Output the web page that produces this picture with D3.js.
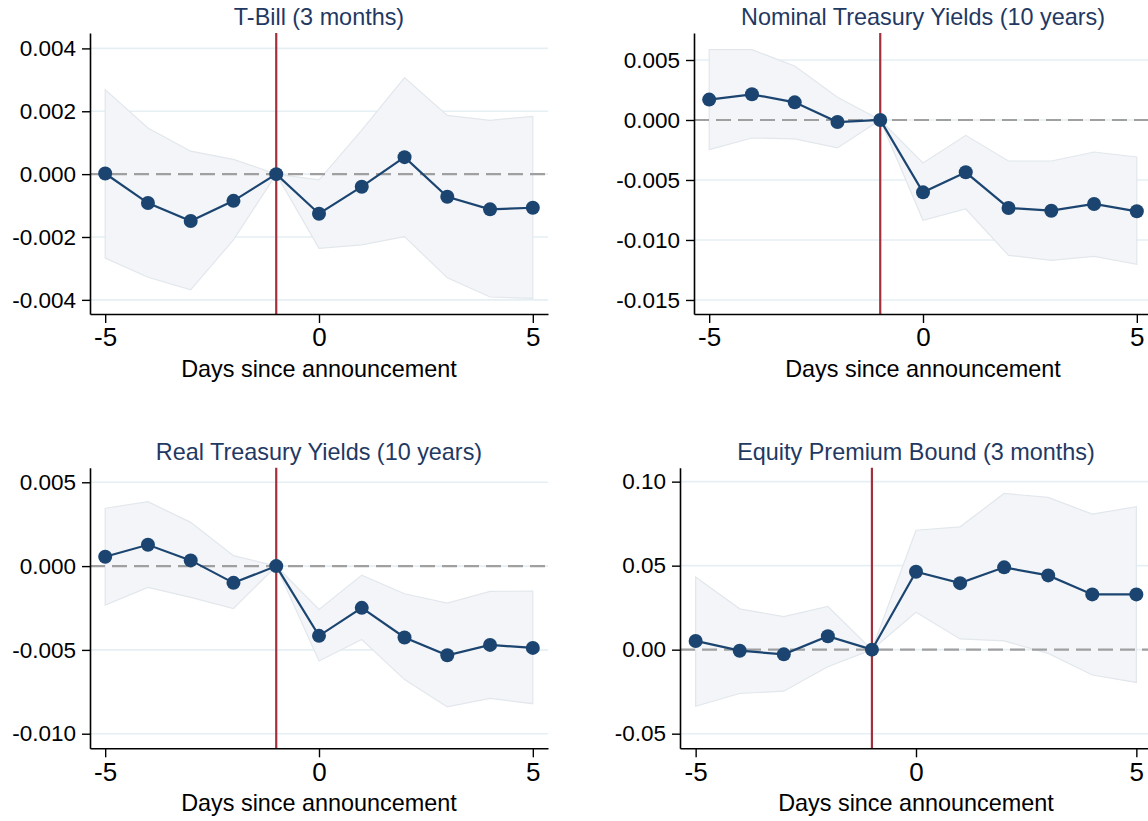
<!DOCTYPE html>
<html>
<head>
<meta charset="utf-8">
<script src="https://cdn.jsdelivr.net/npm/d3@7"></script>
<style>
  html, body { margin: 0; padding: 0; background: #ffffff; overflow: hidden; }
  svg { display: block; font-family: "Liberation Sans", Arial, Helvetica, sans-serif; }
</style>
</head>
<body>
<svg id="chart" width="1148" height="821"></svg>
<script>
// Event-study estimates around the announcement day, with confidence bands
const days = [-5, -4, -3, -2, -1, 0, 1, 2, 3, 4, 5];
const xTicks = [-5, 0, 5];
const announceDay = -1;

const tbillCoef = [0.00002, -0.00092, -0.00149, -0.00085, 0, -0.00126, -0.00040, 0.00054, -0.00072, -0.00112, -0.00107];
const tbillHi   = [0.00269, 0.00147, 0.00073, 0.00047, 0, -0.00018, 0.00140, 0.00307, 0.00187, 0.00171, 0.00184];
const tbillLo   = [-0.00267, -0.00328, -0.00368, -0.00209, 0, -0.00236, -0.00225, -0.00199, -0.00330, -0.00391, -0.00395];
const tbillTicks = [-0.004, -0.002, 0, 0.002, 0.004];

const nominalCoef = [0.00170, 0.00214, 0.00147, -0.00017, 0, -0.00603, -0.00436, -0.00733, -0.00756, -0.00700, -0.00761];
const nominalHi   = [0.00586, 0.00586, 0.00450, 0.00190, 0, -0.00358, -0.00128, -0.00342, -0.00342, -0.00267, -0.00308];
const nominalLo   = [-0.00247, -0.00150, -0.00158, -0.00233, 0, -0.00836, -0.00742, -0.01128, -0.01170, -0.01136, -0.01203];
const nominalTicks = [-0.015, -0.010, -0.005, 0, 0.005];

const realCoef = [0.00056, 0.00127, 0.00034, -0.00100, 0, -0.00416, -0.00249, -0.00426, -0.00532, -0.00470, -0.00488];
const realHi   = [0.00345, 0.00384, 0.00261, 0.00062, 0, -0.00259, -0.00054, -0.00165, -0.00221, -0.00151, -0.00149];
const realLo   = [-0.00233, -0.00127, -0.00187, -0.00253, 0, -0.00566, -0.00438, -0.00677, -0.00840, -0.00789, -0.00821];
const realTicks = [-0.010, -0.005, 0, 0.005];

const equityCoef = [0.0052, -0.0006, -0.0028, 0.0080, 0, 0.0464, 0.0396, 0.0490, 0.0442, 0.0329, 0.0329];
const equityHi   = [0.0432, 0.0243, 0.0197, 0.0257, 0, 0.0711, 0.0731, 0.0930, 0.0906, 0.0807, 0.0851];
const equityLo   = [-0.0337, -0.0261, -0.0247, -0.0102, 0, 0.0223, 0.0064, 0.0052, -0.0022, -0.0151, -0.0195];
const equityTicks = [-0.05, 0, 0.05, 0.10];

const panels = [
  { title: "T-Bill (3 months)", coef: tbillCoef, hi: tbillHi, lo: tbillLo, ticks: tbillTicks, fmt: ".3f",
    yDomain: [-0.00445, 0.00449], box: { left: 90, right: 548, top: 33, bottom: 314 } },
  { title: "Nominal Treasury Yields (10 years)", coef: nominalCoef, hi: nominalHi, lo: nominalLo, ticks: nominalTicks, fmt: ".3f",
    yDomain: [-0.01617, 0.00725], box: { left: 694, right: 1152, top: 33, bottom: 314 } },
  { title: "Real Treasury Yields (10 years)", coef: realCoef, hi: realHi, lo: realLo, ticks: realTicks, fmt: ".3f",
    yDomain: [-0.01087, 0.00587], box: { left: 90, right: 548, top: 467.7, bottom: 748.3 } },
  { title: "Equity Premium Bound (3 months)", coef: equityCoef, hi: equityHi, lo: equityLo, ticks: equityTicks, fmt: ".2f",
    yDomain: [-0.0587, 0.1083], box: { left: 680, right: 1152, top: 467.7, bottom: 748.3 } }
];

const navy = "#1b4570";
const titleColor = "#1f3963";
const svg = d3.select("#chart");

panels.forEach(p => {
  const b = p.box;
  const x = d3.scaleLinear().domain([-5.355, 5.355]).range([b.left, b.right]);
  const y = d3.scaleLinear().domain(p.yDomain).range([b.bottom, b.top]);
  const rows = days.map((d, i) => ({ d, c: p.coef[i], hi: p.hi[i], lo: p.lo[i] }));
  const g = svg.append("g");

  // horizontal gridlines
  g.selectAll("line.grid").data(p.ticks).join("line")
    .attr("x1", b.left).attr("x2", b.right)
    .attr("y1", d => y(d)).attr("y2", d => y(d))
    .attr("stroke", "#e6eff3").attr("stroke-width", 1.6);

  // confidence band
  g.append("path").datum(rows)
    .attr("d", d3.area().x(r => x(r.d)).y0(r => y(r.lo)).y1(r => y(r.hi)))
    .attr("fill", "#f3f5f8").attr("stroke", "#e2e7ec").attr("stroke-width", 1.2);

  // zero reference line
  g.append("line")
    .attr("x1", b.left).attr("x2", b.right)
    .attr("y1", y(0)).attr("y2", y(0))
    .attr("stroke", "#a0a0a0").attr("stroke-width", 2.2)
    .attr("stroke-dasharray", "15,7");

  // announcement day marker
  g.append("line")
    .attr("x1", x(announceDay)).attr("x2", x(announceDay))
    .attr("y1", b.top).attr("y2", b.bottom)
    .attr("stroke", "#a3303d").attr("stroke-width", 2.2);

  // point estimates
  g.append("path").datum(rows)
    .attr("d", d3.line().x(r => x(r.d)).y(r => y(r.c)))
    .attr("fill", "none").attr("stroke", navy).attr("stroke-width", 2.2);
  g.selectAll("circle.pt").data(rows).join("circle")
    .attr("cx", r => x(r.d)).attr("cy", r => y(r.c)).attr("r", 7)
    .attr("fill", navy);

  // y axis
  const yAxis = g.append("g").attr("transform", `translate(${b.left},0)`)
    .call(d3.axisLeft(y).tickValues(p.ticks).tickFormat(d3.format(p.fmt)).tickSize(8).tickSizeOuter(0).tickPadding(6));
  yAxis.select(".domain").attr("stroke", "#000").attr("stroke-width", 1.6);
  yAxis.selectAll(".tick line").attr("stroke", "#000").attr("stroke-width", 1.4);
  yAxis.selectAll(".tick text").attr("font-size", 22.5).attr("fill", "#000")
    .text(d => d3.format(p.fmt)(d).replace("−", "-"));

  // x axis
  const xAxis = g.append("g").attr("transform", `translate(0,${b.bottom})`)
    .call(d3.axisBottom(x).tickValues(xTicks).tickFormat(d3.format("d")).tickSize(9).tickSizeOuter(0).tickPadding(5));
  xAxis.select(".domain").attr("stroke", "#000").attr("stroke-width", 1.6);
  xAxis.selectAll(".tick line").attr("stroke", "#000").attr("stroke-width", 1.4);
  xAxis.selectAll(".tick text").attr("font-size", 26).attr("fill", "#000")
    .text(d => d3.format("d")(d).replace("−", "-"));

  const cx = (b.left + b.right) / 2;
  g.append("text").attr("x", cx).attr("y", b.bottom + 63)
    .attr("text-anchor", "middle").attr("font-size", 23.4).attr("fill", "#000")
    .text("Days since announcement");

  g.append("text").attr("x", cx).attr("y", b.top - 8)
    .attr("text-anchor", "middle").attr("font-size", 23.4).attr("fill", titleColor)
    .text(p.title);
});
</script>
</body>
</html>
